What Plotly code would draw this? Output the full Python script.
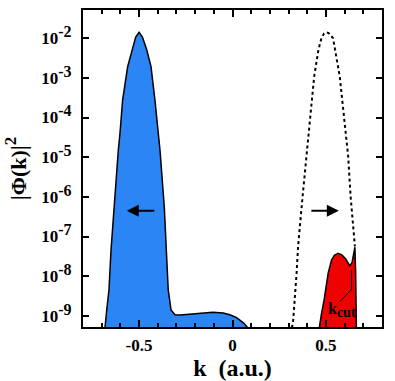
import numpy as np
import plotly.graph_objects as go

# ---- data (k in a.u., values as log10 |Phi(k)|^2) ----
blue_k = [-0.700, -0.682, -0.673, -0.661, -0.650, -0.634, -0.611, -0.602, -0.588,
          -0.561, -0.536, -0.518, -0.500, -0.482, -0.459, -0.436, -0.415, -0.397,
          -0.388, -0.365, -0.352, -0.344, -0.329, -0.308, -0.280, -0.228, -0.170,
          -0.105, -0.050, -0.014, 0.020, 0.040, 0.060, 0.082, 0.090]
blue_log = [-9.5, -9.28, -8.85, -8.34, -7.34, -6.25, -4.82, -4.39, -3.56,
            -2.72, -2.29, -1.97, -1.85, -1.97, -2.29, -2.72, -3.56, -4.39,
            -4.82, -6.25, -7.34, -8.34, -8.85, -8.97, -8.98, -8.96, -8.93,
            -8.91, -8.93, -8.97, -9.04, -9.10, -9.18, -9.30, -9.5]

dot_k = [0.318, 0.325, 0.343, 0.351, 0.375, 0.396, 0.418, 0.437, 0.460, 0.476,
         0.490, 0.503, 0.516, 0.538, 0.574, 0.596, 0.619, 0.632, 0.645, 0.655]
dot_log = [-9.30, -9.10, -7.92, -7.25, -5.99, -4.98, -3.98, -2.97, -2.29, -2.00,
           -1.88, -1.85, -1.88, -2.00, -2.97, -3.98, -4.98, -5.99, -6.70, -7.25]

red_k = [0.458, 0.464, 0.476, 0.490, 0.500, 0.512, 0.530, 0.545, 0.565, 0.585,
         0.605, 0.620, 0.628, 0.640, 0.650, 0.655, 0.659, 0.664, 0.670]
red_log = [-9.5, -9.28, -8.95, -8.60, -8.25, -7.92, -7.59, -7.47, -7.42, -7.46,
           -7.56, -7.68, -7.74, -7.65, -7.45, -7.27, -7.9, -8.8, -9.5]

baseline_log = -12.0

kcut_line_k = [0.637, 0.637, 0.574]
kcut_line_log = [-7.84, -8.34, -8.64]
kcut_label = (0.585, -8.86)

arrow_left = dict(head=(-0.566, -6.35), tail=(-0.410, -6.35))
arrow_right = dict(head=(0.569, -6.35), tail=(0.414, -6.35))

x_ticks = [-0.5, 0, 0.5]
x_ticktext = ["-0.5", "0", "0.5"]
y_exps = [-2, -3, -4, -5, -6, -7, -8, -9]

# ---- figure ----
FONT = "Liberation Serif"
BLUE = "#2b85f4"
RED = "#f00000"


def closed(kk, ll):
    xs = list(kk) + [kk[-1], kk[0]]
    ys = list(np.power(10.0, ll)) + [10 ** baseline_log, 10 ** baseline_log]
    return xs, ys


fig = go.Figure()
bx, by = closed(blue_k, blue_log)
fig.add_trace(go.Scatter(x=bx, y=by, mode="lines", fill="toself", fillcolor=BLUE,
                         line=dict(color="black", width=1.5), hoverinfo="skip"))
rx, ry = closed(red_k, red_log)
fig.add_trace(go.Scatter(x=rx, y=ry, mode="lines", fill="toself", fillcolor=RED,
                         line=dict(color="black", width=1.5), hoverinfo="skip"))
fig.add_trace(go.Scatter(x=dot_k, y=np.power(10.0, dot_log), mode="lines",
                         line=dict(color="black", width=2, dash="dot"), hoverinfo="skip"))
fig.add_trace(go.Scatter(x=kcut_line_k, y=np.power(10.0, kcut_line_log), mode="lines",
                         line=dict(color="black", width=1), hoverinfo="skip"))

fig.add_annotation(x=kcut_label[0], y=kcut_label[1], xref="x", yref="y",
                   text="<b>k<sub><span style='font-size:14px'>cut</span></sub></b>",
                   showarrow=False,
                   font=dict(family=FONT, size=16, color="black"))
for a in (arrow_left, arrow_right):
    fig.add_annotation(x=a["head"][0], y=a["head"][1], ax=a["tail"][0], ay=a["tail"][1],
                       xref="x", yref="y", axref="x", ayref="y", text="",
                       showarrow=True, arrowhead=2, arrowsize=1.2, arrowwidth=2,
                       arrowcolor="black")

fig.update_layout(
    width=395, height=381,
    margin=dict(l=83, r=13, t=10, b=54),
    paper_bgcolor="white", plot_bgcolor="white",
    showlegend=False,
    font=dict(family=FONT, color="black"),
)
fig.update_xaxes(
    automargin=False,
    range=[-0.8, 0.8], showgrid=False, zeroline=False,
    showline=True, linecolor="black", linewidth=2, mirror="allticks",
    ticks="inside", ticklen=7, tickwidth=2, tickcolor="black",
    tickvals=x_ticks, ticktext=["<b>%s</b>" % t for t in x_ticktext],
    tickfont=dict(family=FONT, size=17, color="black"),
    ticklabelstandoff=2,
    minor=dict(dtick=0.1, tick0=0, ticks="inside", ticklen=4, tickwidth=2, tickcolor="black"),
    title=dict(text="<b>k  (a.u.)</b>", font=dict(family=FONT, size=24, color="black"), standoff=2),
)
fig.update_yaxes(
    automargin=False,
    type="log", range=[-9.28, -1.29], showgrid=False, zeroline=False,
    showline=True, linecolor="black", linewidth=2, mirror="allticks",
    ticks="inside", ticklen=6, tickwidth=2, tickcolor="black",
    tickvals=[10.0 ** e for e in y_exps],
    ticktext=["<b>10<sup><span style='font-size:16px'>%d</span></sup></b>" % e for e in y_exps],
    tickfont=dict(family=FONT, size=17, color="black"),
    ticklabelstandoff=6,
    title=dict(text="<b>|Φ(k)|<sup><span style='font-size:17px'>2</span></sup></b>",
               font=dict(family=FONT, size=22, color="black"), standoff=9),
)

fig.write_html("out.html", post_script="document.body.style.margin='0px';",
               config={"displayModeBar": False})
